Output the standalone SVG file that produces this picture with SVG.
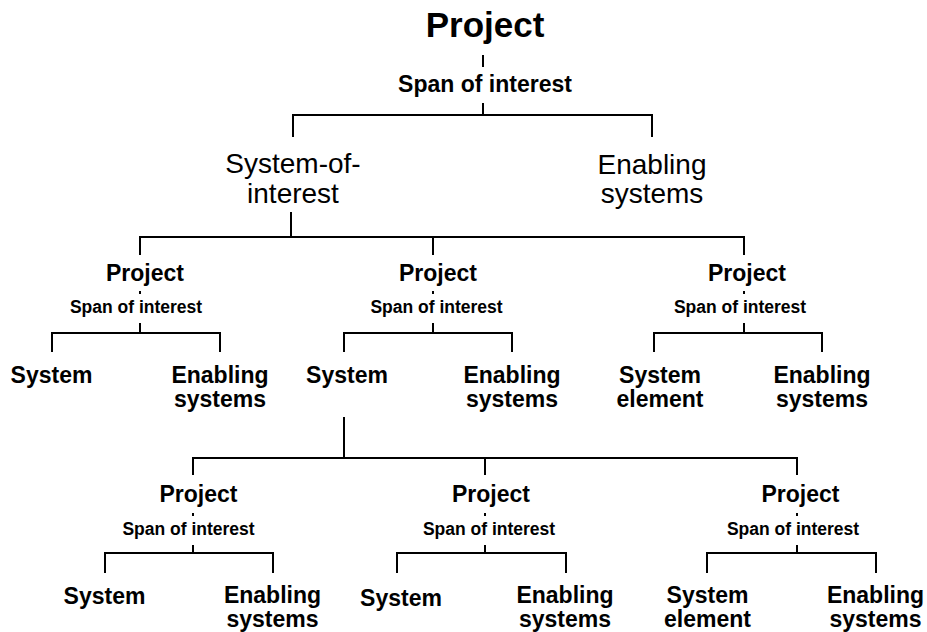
<svg xmlns="http://www.w3.org/2000/svg" width="927" height="632" viewBox="0 0 927 632">
<style>
text{font-family:"Liberation Sans",Arial,Helvetica,sans-serif;fill:#000;text-anchor:middle}
.b{font-weight:bold}
.t{font-size:35px;font-weight:bold}
.s0{font-size:23px;font-weight:bold}
.r{font-size:28px}
.p{font-size:23px;font-weight:bold}
.s{font-size:17.5px;font-weight:bold}
.l{font-size:23px;font-weight:bold}
#connectors path{fill:none;stroke:#000;stroke-width:2}
</style>
<rect width="927" height="632" fill="#fff"/>
<g id="connectors">
<path d="M483 55V67M483 103V115M293 137V115H652V137"/>
<path d="M291 212V237M140 255V237H744V255M433 237V255"/>
<path d="M140 291V294M140 323V333M52 352V333H220V352"/>
<path d="M433 291V294M433 323V333M344 352V333H512V352"/>
<path d="M744 291V294M744 323V333M654 352V333H822V352"/>
<path d="M344 417V458M193 475V458H797V475M485 458V475"/>
<path d="M193 513V516M193 545V553M105 573V553H273V573"/>
<path d="M485 513V516M485 545V553M397 573V553H566V573"/>
<path d="M797 513V516M797 545V553M707 573V553H876V573"/>
</g>
<g id="root"><text class="t" x="485" y="37">Project</text><text class="s0" x="485" y="92">Span of interest</text></g>
<g id="soi"><text class="r" x="293" y="173">System-of-</text><text class="r" x="293" y="203">interest</text></g>
<g id="enab0"><text class="r" x="652" y="174">Enabling</text><text class="r" x="652" y="203">systems</text></g>
<g id="p2a"><text class="p" x="145" y="281">Project</text><text class="s" x="136" y="313">Span of interest</text></g>
<g id="p2b"><text class="p" x="438" y="281">Project</text><text class="s" x="436.5" y="313">Span of interest</text></g>
<g id="p2c"><text class="p" x="747" y="281">Project</text><text class="s" x="740" y="313">Span of interest</text></g>
<g id="l2a1"><text class="l" x="51.5" y="383">System</text></g>
<g id="l2a2"><text class="l" x="220" y="383">Enabling</text><text class="l" x="220" y="407">systems</text></g>
<g id="l2b1"><text class="l" x="347" y="383">System</text></g>
<g id="l2b2"><text class="l" x="512" y="383">Enabling</text><text class="l" x="512" y="407">systems</text></g>
<g id="l2c1"><text class="l" x="660" y="383">System</text><text class="l" x="660" y="407">element</text></g>
<g id="l2c2"><text class="l" x="822" y="383">Enabling</text><text class="l" x="822" y="407">systems</text></g>
<g id="p3a"><text class="p" x="198.5" y="502">Project</text><text class="s" x="188.5" y="535">Span of interest</text></g>
<g id="p3b"><text class="p" x="491" y="502">Project</text><text class="s" x="489" y="535">Span of interest</text></g>
<g id="p3c"><text class="p" x="800.5" y="502">Project</text><text class="s" x="793" y="535">Span of interest</text></g>
<g id="l3a1"><text class="l" x="104.5" y="604">System</text></g>
<g id="l3a2"><text class="l" x="272.5" y="603">Enabling</text><text class="l" x="272.5" y="627">systems</text></g>
<g id="l3b1"><text class="l" x="401" y="606">System</text></g>
<g id="l3b2"><text class="l" x="565" y="603">Enabling</text><text class="l" x="565" y="627">systems</text></g>
<g id="l3c1"><text class="l" x="707.5" y="603">System</text><text class="l" x="707.5" y="627">element</text></g>
<g id="l3c2"><text class="l" x="875.5" y="603">Enabling</text><text class="l" x="875.5" y="627">systems</text></g>
</svg>
